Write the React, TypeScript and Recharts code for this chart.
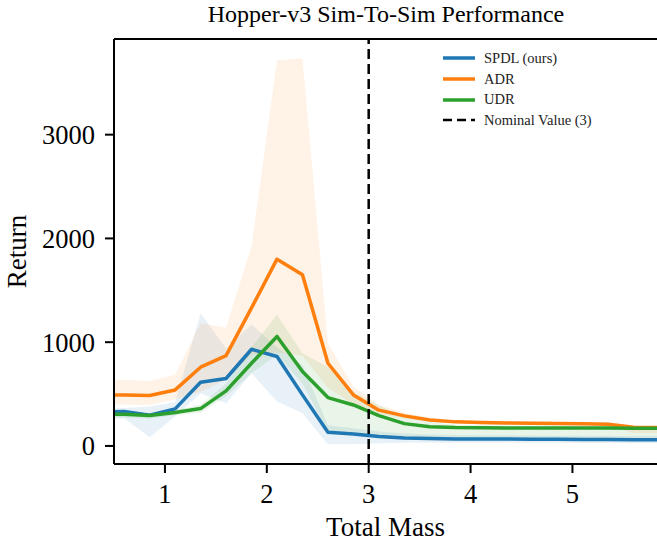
import React from 'react';
import {
  ComposedChart, Line, Area, XAxis, YAxis, ReferenceLine, Legend, Label,
} from 'recharts';

// total mass samples (first and last lie just outside the visible x range)
const mass = [0.35, 0.6, 0.85, 1.1, 1.35, 1.6, 1.85, 2.1, 2.35, 2.6, 2.85, 3.1, 3.35, 3.6, 3.85, 4.1, 4.35, 4.6, 4.85, 5.1, 5.35, 5.6, 5.85];

const spdlMean = [330, 331, 296, 357, 614, 650, 932, 862, 492, 132, 116, 90, 77, 71, 68, 68, 66, 65, 64, 63, 62, 60, 60];
const spdlLow = [260, 267, 84, 283, 508, 412, 701, 428, 315, 16, 16, 26, 30, 32, 32, 32, 32, 31, 30, 29, 28, 27, 27];
const spdlHigh = [360, 365, 380, 420, 1280, 940, 1170, 950, 780, 200, 170, 140, 120, 110, 105, 104, 102, 100, 99, 98, 97, 95, 95];

const adrMean = [492, 492, 486, 540, 759, 871, 1330, 1800, 1650, 797, 492, 345, 290, 250, 232, 225, 222, 219, 216, 213, 210, 180, 177];
const adrLow = [400, 400, 395, 450, 520, 640, 880, 900, 870, 560, 400, 310, 265, 230, 215, 210, 207, 204, 201, 198, 195, 125, 125];
const adrHigh = [640, 637, 627, 685, 1183, 1141, 1923, 3717, 3733, 990, 572, 395, 320, 275, 250, 242, 238, 235, 232, 229, 226, 190, 190];

const udrMean = [305, 305, 293, 322, 360, 531, 797, 1055, 717, 466, 395, 293, 215, 186, 177, 175, 174, 173, 173, 172, 172, 171, 170];
const udrLow = [270, 275, 265, 295, 320, 480, 700, 880, 600, 140, 110, 90, 78, 72, 70, 70, 69, 68, 68, 67, 67, 66, 66];
const udrHigh = [330, 325, 315, 345, 400, 600, 950, 1264, 894, 760, 520, 390, 290, 230, 205, 200, 198, 196, 195, 194, 193, 192, 192];

const xTicks = [1, 2, 3, 4, 5];
const yTicks = [0, 1000, 2000, 3000];
const nominalMass = 3;

const BLUE = '#1f77b4';
const ORANGE = '#ff7f0e';
const GREEN = '#2ca02c';
const FONT = '"Liberation Serif", "DejaVu Serif", serif';

const data = mass.map((m, i) => ({
  mass: m,
  spdl: spdlMean[i],
  spdlBand: [spdlLow[i], spdlHigh[i]],
  adr: adrMean[i],
  adrBand: [adrLow[i], adrHigh[i]],
  udr: udrMean[i],
  udrBand: [udrLow[i], udrHigh[i]],
}));

const legendItems = [
  { label: 'SPDL (ours)', color: BLUE, dashed: false },
  { label: 'ADR', color: ORANGE, dashed: false },
  { label: 'UDR', color: GREEN, dashed: false },
  { label: 'Nominal Value (3)', color: '#000', dashed: true },
];

const LegendBox = () => (
  <div style={{ fontFamily: FONT, fontSize: 14.5, color: '#222' }}>
    {legendItems.map((it) => (
      <div key={it.label} style={{ display: 'flex', alignItems: 'center', height: 20.7 }}>
        <svg width={40} height={10} style={{ marginRight: 6 }}>
          <line
            x1={5} y1={5} x2={37} y2={5}
            stroke={it.color}
            strokeWidth={it.dashed ? 2.5 : 3.5}
            strokeDasharray={it.dashed ? '9 5' : undefined}
          />
        </svg>
        <span>{it.label}</span>
      </div>
    ))}
  </div>
);

const YLabel = ({ viewBox }: any) => {
  const cy = viewBox.y + viewBox.height / 2;
  return (
    <text x={0} y={0} transform={`translate(26, ${cy}) rotate(-90)`} textAnchor="middle"
      fontFamily={FONT} fontSize={27} fill="#000">Return</text>
  );
};

export default function App() {
  const tickStyle = { fontFamily: FONT, fontSize: 26.5, fill: '#000' };
  return (
    <div style={{ position: 'absolute', left: 0, top: 0, width: 657, height: 541, background: '#fff' }}>
      <ComposedChart width={657} height={541} data={data} margin={{ top: 39, right: 0, bottom: 0, left: 0 }}>
        <XAxis
          dataKey="mass" type="number" domain={[0.5, 5.83]} allowDataOverflow
          ticks={xTicks} tick={tickStyle} tickSize={9} tickMargin={11}
          axisLine={{ stroke: '#000', strokeWidth: 2 }} tickLine={{ stroke: '#000', strokeWidth: 2 }}
          height={77}
        >
          <Label value="Total Mass" position="insideBottom" offset={5} style={{ fontFamily: FONT, fontSize: 27, fill: '#000' }} />
        </XAxis>
        <YAxis
          type="number" domain={[-174, 3922]} allowDataOverflow
          ticks={yTicks} tick={tickStyle} tickSize={9} tickMargin={10} width={114}
          axisLine={{ stroke: '#000', strokeWidth: 2 }} tickLine={{ stroke: '#000', strokeWidth: 2 }}
          label={<YLabel />}
        />
        <ReferenceLine y={3922} stroke="#000" strokeWidth={2} />
        <Area type="linear" dataKey="spdlBand" stroke="none" fill={BLUE} fillOpacity={0.1} isAnimationActive={false} />
        <Area type="linear" dataKey="adrBand" stroke="none" fill={ORANGE} fillOpacity={0.1} isAnimationActive={false} />
        <Area type="linear" dataKey="udrBand" stroke="none" fill={GREEN} fillOpacity={0.1} isAnimationActive={false} />
        <Line type="linear" dataKey="spdl" stroke={BLUE} strokeWidth={3.5} strokeLinejoin="round" dot={false} isAnimationActive={false} />
        <Line type="linear" dataKey="adr" stroke={ORANGE} strokeWidth={3.5} strokeLinejoin="round" dot={false} isAnimationActive={false} />
        <Line type="linear" dataKey="udr" stroke={GREEN} strokeWidth={3.5} strokeLinejoin="round" dot={false} isAnimationActive={false} />
        <ReferenceLine x={nominalMass} stroke="#000" strokeWidth={2.5} strokeDasharray="10 5" />
        <Legend
          layout="vertical" align="center" verticalAlign="middle"
          content={<LegendBox />}
          wrapperStyle={{ left: 438, top: 48, width: 210, height: 90 }}
        />
        <text x={386} y={21.5} textAnchor="middle" fontFamily={FONT} fontSize={24} fill="#000">
          Hopper-v3 Sim-To-Sim Performance
        </text>
      </ComposedChart>
    </div>
  );
}
